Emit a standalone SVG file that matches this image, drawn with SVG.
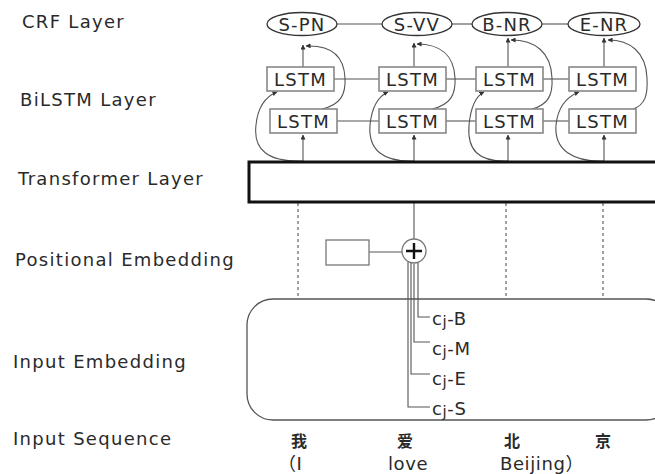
<svg xmlns="http://www.w3.org/2000/svg" width="655" height="474" viewBox="0 0 655 474">
<style>
text{font-family:"DejaVu Sans","Noto Sans CJK SC",sans-serif;fill:#2a2a2a;}
.lbl{font-size:18px;letter-spacing:1.3px;}
.node{font-size:18px;letter-spacing:1.2px;text-anchor:middle;}
.ell{fill:#fff;stroke:#333;stroke-width:1.3;}
.box{fill:#fff;stroke:#888;stroke-width:1.6;}
.ln{fill:none;stroke:#555;stroke-width:1.1;}
.dash{fill:none;stroke:#555;stroke-width:1.1;stroke-dasharray:3 3;}
.cj{font-size:18px;letter-spacing:0.6px;}
.cn{font-size:16px;text-anchor:middle;font-weight:700;}
.en{font-size:18px;letter-spacing:0.6px;}
</style>
<defs>
<marker id="ah" viewBox="0 0 6 6" refX="5.5" refY="3" markerWidth="5" markerHeight="5" orient="auto" markerUnits="userSpaceOnUse">
<path d="M0,0 L6,3 L0,6 z" fill="#333"/>
</marker>
</defs>

<g id="labels">
<text class="lbl" x="22" y="28">CRF Layer</text>
<text class="lbl" x="20" y="106">BiLSTM Layer</text>
<text class="lbl" x="18" y="185">Transformer Layer</text>
<text class="lbl" x="15" y="266">Positional Embedding</text>
<text class="lbl" x="13" y="368">Input Embedding</text>
<text class="lbl" x="13" y="445">Input Sequence</text>
</g>

<g id="connectors">
<line class="ln" x1="337" y1="24" x2="382" y2="24"/>
<line class="ln" x1="452" y1="24" x2="472" y2="24"/>
<line class="ln" x1="542" y1="24" x2="568" y2="24"/>
<line class="ln" x1="334" y1="79" x2="379" y2="79"/>
<line class="ln" x1="446" y1="79" x2="476" y2="79"/>
<line class="ln" x1="543" y1="79" x2="569" y2="79"/>
<line class="ln" x1="337" y1="121" x2="379" y2="121"/>
<line class="ln" x1="446" y1="121" x2="476" y2="121"/>
<line class="ln" x1="543" y1="121" x2="569" y2="121"/>
<line class="ln" x1="303" y1="67" x2="303" y2="45" marker-end="url(#ah)"/>
<line class="ln" x1="414" y1="67" x2="414" y2="43" marker-end="url(#ah)"/>
<line class="ln" x1="508" y1="67" x2="508" y2="38" marker-end="url(#ah)"/>
<line class="ln" x1="604" y1="67" x2="604" y2="38" marker-end="url(#ah)"/>
<line class="ln" x1="303" y1="162" x2="303" y2="135" marker-end="url(#ah)"/>
<line class="ln" x1="414" y1="162" x2="414" y2="135" marker-end="url(#ah)"/>
<line class="ln" x1="508" y1="162" x2="508" y2="135" marker-end="url(#ah)"/>
<line class="ln" x1="604" y1="162" x2="604" y2="135" marker-end="url(#ah)"/>
<path class="ln" d="M303,161 C268,162 253,150 256,125 C258,105 267,96 277,92" marker-end="url(#ah)"/>
<path class="ln" d="M414,161 C383,162 368,150 370,125 C372,105 379,96 388,92" marker-end="url(#ah)"/>
<path class="ln" d="M508,161 C478,162 467,150 469,125 C471,105 476,96 484,92" marker-end="url(#ah)"/>
<path class="ln" d="M604,161 C573,162 554,150 556,125 C558,105 569,96 579,92" marker-end="url(#ah)"/>
<path class="ln" d="M322,109 C340,105 346,95 345,78 C344,55 330,45 306,46" marker-end="url(#ah)"/>
<path class="ln" d="M432,109 C450,105 456,95 455,78 C454,55 440,44 417,44" marker-end="url(#ah)"/>
<path class="ln" d="M532,109 C548,105 553,95 552,78 C551,52 535,40 511,40" marker-end="url(#ah)"/>
<path class="ln" d="M633,109 C645,105 648,95 647,78 C646,52 630,40 608,40" marker-end="url(#ah)"/>
<line class="dash" x1="298" y1="203" x2="298" y2="299"/>
<line class="dash" x1="506" y1="203" x2="506" y2="299"/>
<line class="dash" x1="603" y1="203" x2="603" y2="299"/>
<line class="ln" x1="414" y1="203" x2="414" y2="239"/>
<line class="ln" x1="369" y1="252" x2="402" y2="252"/>
<path class="ln" d="M418,263 V317 H430"/>
<path class="ln" d="M414,264 V342 H430"/>
<path class="ln" d="M411,263 V374 H430"/>
<path class="ln" d="M408,262 V407 H430"/>
</g>

<g id="transformer">
<rect x="249" y="162" width="420" height="40" fill="none" stroke="#111" stroke-width="3"/>
</g>

<g id="input-embedding">
<rect x="247" y="299" width="425" height="121" rx="26" ry="26" fill="none" stroke="#555" stroke-width="1.3"/>
</g>

<g id="crf-s-pn"><ellipse class="ell" cx="302" cy="24" rx="35" ry="11.5"/><text class="node" x="302" y="31">S-PN</text></g>
<g id="crf-s-vv"><ellipse class="ell" cx="417" cy="24" rx="35" ry="11.5"/><text class="node" x="417" y="31">S-VV</text></g>
<g id="crf-b-nr"><ellipse class="ell" cx="507" cy="24" rx="35" ry="11.5"/><text class="node" x="507" y="31">B-NR</text></g>
<g id="crf-e-nr"><ellipse class="ell" cx="604" cy="24" rx="36" ry="11.5"/><text class="node" x="604" y="31">E-NR</text></g>

<g id="lstm-f1"><rect class="box" x="267" y="67" width="67" height="24"/><text class="node" x="300.5" y="86">LSTM</text></g>
<g id="lstm-f2"><rect class="box" x="379" y="67" width="67" height="24"/><text class="node" x="412.5" y="86">LSTM</text></g>
<g id="lstm-f3"><rect class="box" x="476" y="67" width="67" height="24"/><text class="node" x="509.5" y="86">LSTM</text></g>
<g id="lstm-f4"><rect class="box" x="569" y="67" width="67" height="24"/><text class="node" x="602.5" y="86">LSTM</text></g>
<g id="lstm-b1"><rect class="box" x="270" y="109" width="67" height="24"/><text class="node" x="303.5" y="128">LSTM</text></g>
<g id="lstm-b2"><rect class="box" x="379" y="109" width="67" height="24"/><text class="node" x="412.5" y="128">LSTM</text></g>
<g id="lstm-b3"><rect class="box" x="476" y="109" width="67" height="24"/><text class="node" x="509.5" y="128">LSTM</text></g>
<g id="lstm-b4"><rect class="box" x="569" y="109" width="67" height="24"/><text class="node" x="602.5" y="128">LSTM</text></g>

<g id="positional-box"><rect x="326" y="240" width="43" height="25" fill="#fff" stroke="#777" stroke-width="1.3"/></g>
<g id="adder">
<circle cx="414" cy="251" r="12" fill="#fff" stroke="#777" stroke-width="1.3"/>
<path d="M414,243 V259 M406,251 H422" stroke="#111" stroke-width="2.4"/>
</g>

<g id="char-labels">
<text class="cj" x="432" y="325">c<tspan font-size="15" dy="2">j</tspan><tspan dy="-2">-B</tspan></text>
<text class="cj" x="432" y="355">c<tspan font-size="15" dy="2">j</tspan><tspan dy="-2">-M</tspan></text>
<text class="cj" x="432" y="385">c<tspan font-size="15" dy="2">j</tspan><tspan dy="-2">-E</tspan></text>
<text class="cj" x="432" y="415">c<tspan font-size="15" dy="2">j</tspan><tspan dy="-2">-S</tspan></text>
</g>

<g id="sequence">
<text class="cn" x="299" y="447">我</text>
<text class="cn" x="405" y="447">爱</text>
<text class="cn" x="512" y="447">北</text>
<text class="cn" x="603" y="447">京</text>
<text class="en" x="278" y="470">（I</text>
<text class="en" x="388" y="470">love</text>
<text class="en" x="500" y="470">Beijing）</text>
</g>
</svg>
